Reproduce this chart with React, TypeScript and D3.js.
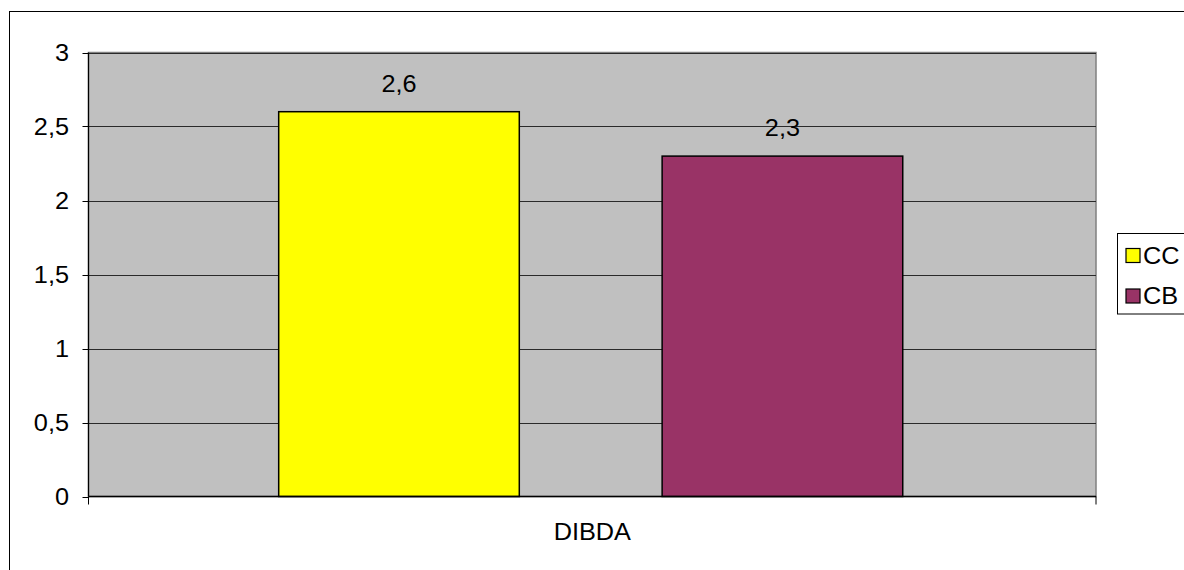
import React from "react";
import * as d3 from "d3";

// Chart data
const categories: string[] = ["DIBDA"];
const seriesNames: string[] = ["CC", "CB"];
const seriesValues: number[] = [2.6, 2.3];
const seriesColors: string[] = ["#FFFF00", "#993366"];
const yTicks: number[] = [0, 0.5, 1, 1.5, 2, 2.5, 3];
const yTickLabels: string[] = ["0", "0,5", "1", "1,5", "2", "2,5", "3"];
const valueLabels: string[] = ["2,6", "2,3"];

const W = 1184;
const H = 570;
const plot = { left: 88.5, right: 1096, top: 52.5, bottom: 496.5 };
const FONT = "'Liberation Sans', Arial, sans-serif";
const FS = 23;
const SX = 1.1;

function Label({ x, y, anchor, children }: { x: number; y: number; anchor: "start" | "middle" | "end"; children: React.ReactNode }) {
  return (
    <text
      transform={`translate(${x},${y}) scale(${SX},1)`}
      textAnchor={anchor}
      fontFamily={FONT}
      fontSize={FS}
      fill="#000"
    >
      {children}
    </text>
  );
}

export default function App() {
  const y = d3.scaleLinear().domain([0, 3]).range([plot.bottom, plot.top]);
  const x0 = d3.scaleBand<string>().domain(categories).range([plot.left, plot.right]).padding(0);
  const x1 = d3
    .scaleBand<string>()
    .domain(seriesNames)
    .range([x0(categories[0])!, x0(categories[0])! + x0.bandwidth()])
    .paddingInner(0.3725)
    .paddingOuter(0.5)
    .align(0.496);

  const legendX = 1117.5;
  const legendY = 233.5;
  const legendRowY = [255.5, 296];

  return (
    <svg width={W} height={H} style={{ position: "absolute", left: 0, top: 0, background: "#fff" }}>
      {/* outer chart frame */}
      <rect x={9.5} y={11.5} width={W} height={H} fill="#fff" stroke="#000" strokeWidth={1} />

      {/* plot area */}
      <rect
        x={plot.left}
        y={plot.top}
        width={plot.right - plot.left}
        height={plot.bottom - plot.top}
        fill="#C0C0C0"
        stroke="#808080"
        strokeWidth={1.5}
      />

      {/* gridlines */}
      {yTicks.slice(1).map((t) => (
        <line key={t} x1={plot.left} x2={plot.right} y1={Math.round(y(t)) + 0.5} y2={Math.round(y(t)) + 0.5} stroke="#2a2a2a" strokeWidth={1} />
      ))}

      {/* bars */}
      {seriesNames.map((s, i) => (
        <rect
          key={s}
          x={x1(s)!}
          y={y(seriesValues[i])}
          width={x1.bandwidth()}
          height={y(0) - y(seriesValues[i])}
          fill={seriesColors[i]}
          stroke="#000"
          strokeWidth={1.5}
        />
      ))}

      {/* value labels */}
      {seriesNames.map((s, i) => (
        <Label key={s} x={x1(s)! + x1.bandwidth() / 2} y={y(seriesValues[i]) - 20} anchor="middle">
          {valueLabels[i]}
        </Label>
      ))}

      {/* y axis */}
      <line x1={plot.left} x2={plot.left} y1={plot.top} y2={plot.bottom} stroke="#000" strokeWidth={1.2} />
      {yTicks.map((t, i) => (
        <g key={t}>
          <line x1={plot.left - 6} x2={plot.left} y1={Math.round(y(t)) + 0.5} y2={Math.round(y(t)) + 0.5} stroke="#000" />
          <Label x={69} y={y(t) + 8} anchor="end">
            {yTickLabels[i]}
          </Label>
        </g>
      ))}

      {/* x axis */}
      <line x1={plot.left} x2={plot.right} y1={plot.bottom} y2={plot.bottom} stroke="#000" strokeWidth={1.5} />
      {[plot.left, plot.right].map((px) => (
        <line key={px} x1={px} x2={px} y1={plot.bottom} y2={plot.bottom + 8} stroke="#000" />
      ))}
      {categories.map((c) => (
        <Label key={c} x={x0(c)! + x0.bandwidth() / 2} y={539.5} anchor="middle">
          {c}
        </Label>
      ))}

      {/* legend */}
      <rect x={legendX} y={legendY} width={120} height={80.5} fill="#fff" stroke="#000" strokeWidth={1} />
      {seriesNames.map((s, i) => (
        <g key={s}>
          <rect x={1126} y={legendRowY[i] - 7} width={14} height={14} fill={seriesColors[i]} stroke="#000" strokeWidth={1.2} />
          <Label x={1143} y={legendRowY[i] + 8} anchor="start">
            {s}
          </Label>
        </g>
      ))}
    </svg>
  );
}
